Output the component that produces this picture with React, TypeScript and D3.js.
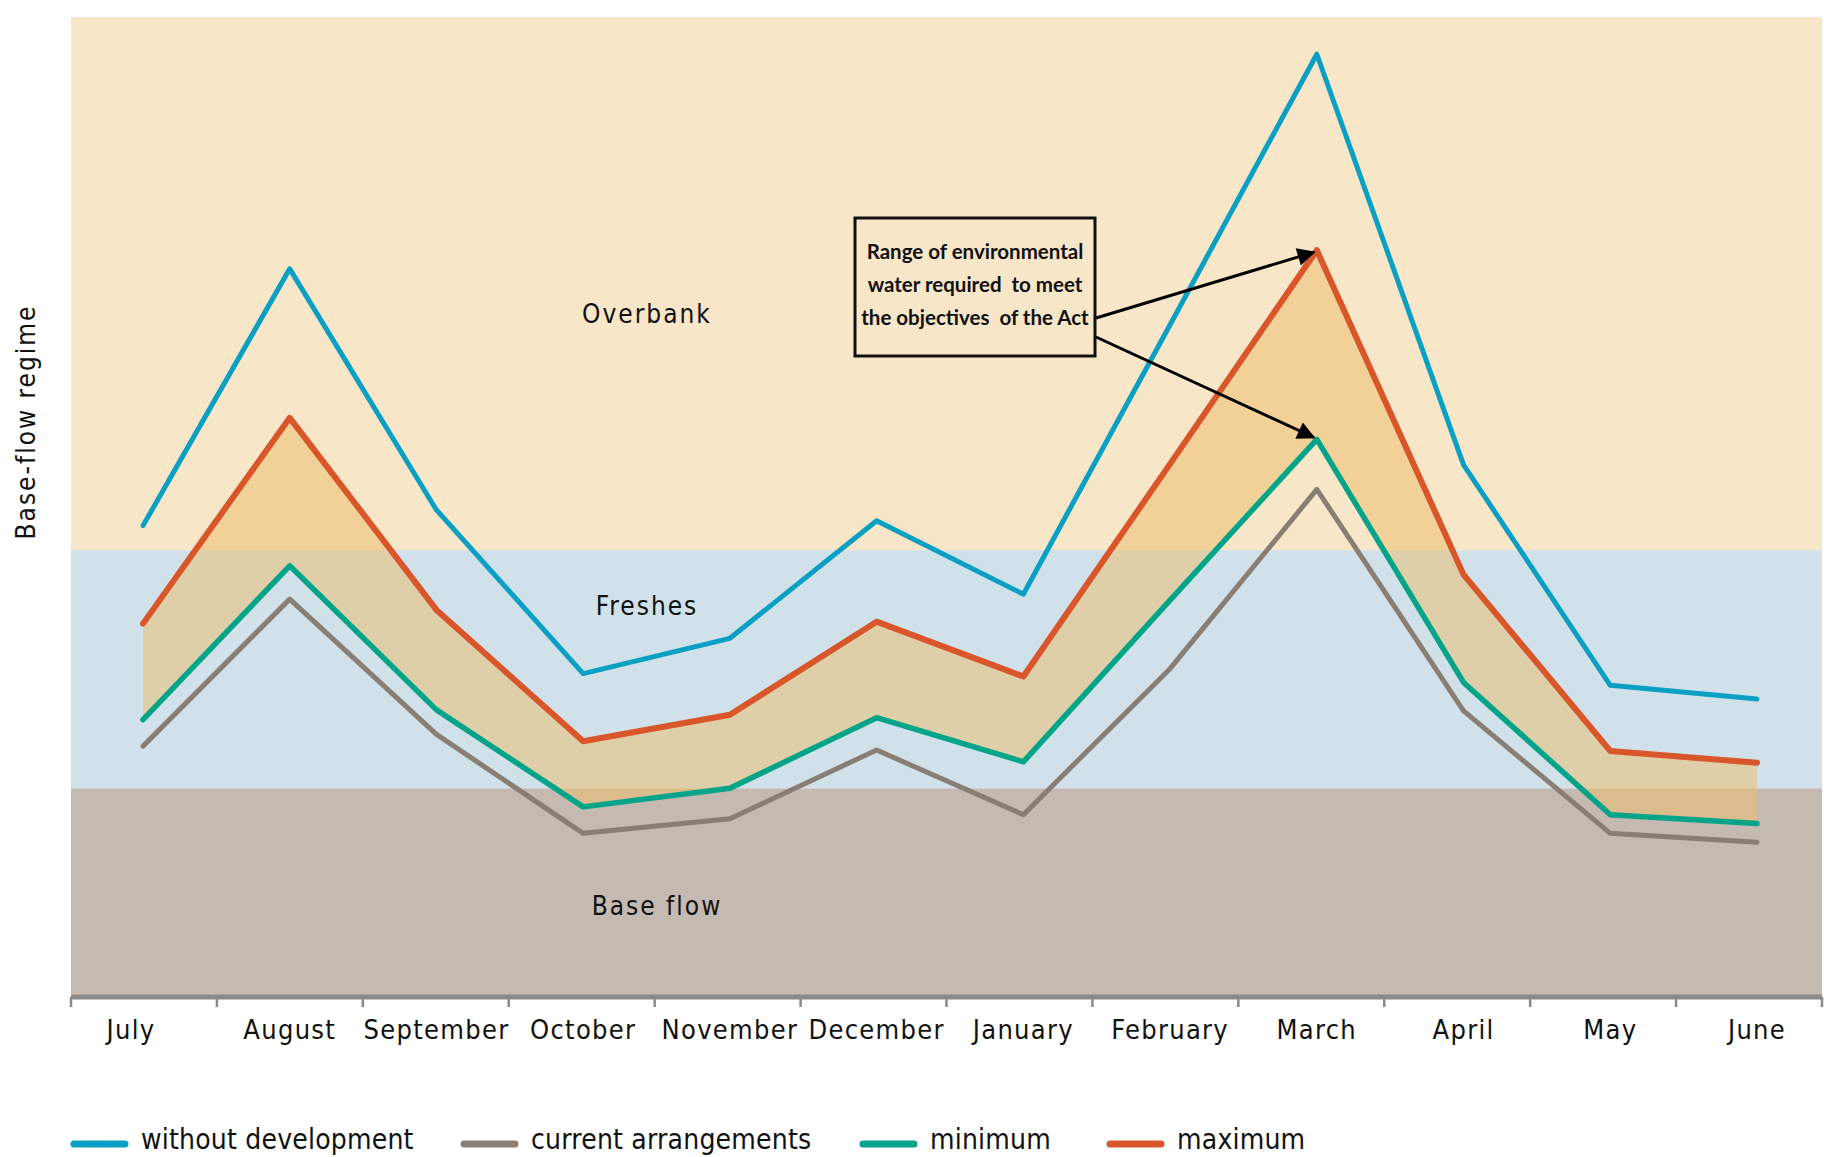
import React from "react";
import * as d3 from "d3";

// months along the flow year
const months = ["July", "August", "September", "October", "November", "December", "January", "February", "March", "April", "May", "June"];

// flow level, relative units (0 = axis, 100 = top of plot)
const withoutDevelopment = [48.1, 74.3, 49.7, 33.0, 36.6, 48.6, 41.1, 68.6, 96.2, 54.3, 31.8, 30.4];
const currentArrangements = [25.6, 40.6, 26.8, 16.7, 18.2, 25.2, 18.6, 33.5, 51.8, 29.2, 16.7, 15.8];
const minimum = [28.3, 44.0, 29.3, 19.4, 21.3, 28.5, 24.0, 40.5, 56.9, 32.1, 18.6, 17.7];
const maximum = [38.1, 59.1, 39.5, 26.1, 28.8, 38.3, 32.7, 54.4, 76.2, 43.1, 25.1, 23.9];

// flow regime zones
const zoneNames = ["Base flow", "Freshes", "Overbank"];
const zoneFrom = [0, 21.3, 45.6];
const zoneTo = [21.3, 45.6, 100];
const zoneColors = ["#c4bab1", "#d0e1ea", "#f7e6c8"];

const legendNames = ["without development", "current arrangements", "minimum", "maximum"];
const legendColors = ["#0aa0c4", "#897e74", "#03a488", "#d9552a"];

const W = 1824;
const H = 1157;
const LEFT = 71;
const RIGHT = 1822;
const TOP = 17;
const BOTTOM = 997;

const FONT = "'DejaVu Sans', sans-serif";

export default function App() {
  const x = d3.scalePoint<string>().domain(months).range([143, 1757]);
  const xEdge = d3.scaleLinear().domain([0, months.length]).range([LEFT, RIGHT]);
  const y = d3.scaleLinear().domain([0, 100]).range([BOTTOM, TOP]);
  const px = (i: number) => x(months[i]) as number;

  const line = d3.line<number>().x((_, i) => px(i)).y(d => y(d));
  const band = d3.area<number>()
    .x((_, i) => px(i))
    .y0((_, i) => y(minimum[i]))
    .y1(d => y(d));

  const series = [
    { data: withoutDevelopment, color: legendColors[0], w: 5 },
    { data: currentArrangements, color: legendColors[1], w: 5 },
    { data: minimum, color: legendColors[2], w: 5.5 },
    { data: maximum, color: legendColors[3], w: 6 },
  ];

  const marchIdx = months.indexOf("March");
  const tipMax = [px(marchIdx) - 3, y(maximum[marchIdx]) + 2];
  const tipMin = [px(marchIdx) - 3, y(minimum[marchIdx]) - 2];

  const zoneLabelPos = [
    { x: 657, y: 907 },
    { x: 647, y: 607 },
    { x: 647, y: 315 },
  ];

  const legendX = [71, 461, 860, 1107];

  const txt = { fontFamily: FONT, fontStretch: "condensed" } as React.CSSProperties;

  return (
    <svg width={W} height={H} style={{ position: "absolute", left: 0, top: 0, background: "#fff" }}>
      <defs>
        <marker id="arrow" viewBox="0 0 10 10" refX="9" refY="5" markerWidth="7" markerHeight="6" orient="auto" markerUnits="strokeWidth">
          <path d="M0,0 L10,5 L0,10 z" fill="#000" />
        </marker>
      </defs>

      {/* flow zones */}
      {zoneNames.map((z, i) => (
        <rect key={z} x={LEFT} width={RIGHT - LEFT} y={y(zoneTo[i])} height={y(zoneFrom[i]) - y(zoneTo[i])} fill={zoneColors[i]} />
      ))}

      {zoneNames.map((z, i) => (
        <text key={z} x={zoneLabelPos[i].x} y={zoneLabelPos[i].y} textAnchor="middle" dominantBaseline="middle"
          style={txt} fontSize={26} letterSpacing={2} fill="#111">{z}</text>
      ))}

      {/* environmental water range */}
      <path d={band(maximum) as string} fill="#eebd6c" fillOpacity={0.52} />

      {series.map((s, i) => (
        <path key={i} d={line(s.data) as string} fill="none" stroke={s.color} strokeWidth={s.w}
          strokeLinecap="round" strokeLinejoin="round" />
      ))}

      {/* x axis */}
      <line x1={LEFT} x2={RIGHT} y1={BOTTOM} y2={BOTTOM} stroke="#8a8a8a" strokeWidth={5} />
      {d3.range(months.length + 1).map(i => (
        <line key={i} x1={xEdge(i)} x2={xEdge(i)} y1={BOTTOM} y2={BOTTOM + 10} stroke="#8a8a8a" strokeWidth={2.5} />
      ))}
      {months.map((m, i) => (
        <text key={m} x={i === 0 ? px(i) - 12 : px(i)} y={1039} textAnchor="middle"
          style={txt} fontSize={27} letterSpacing={1.3} fill="#111">{m}</text>
      ))}

      {/* y label */}
      <text transform="translate(35,422) rotate(-90)" textAnchor="middle" style={txt} fontSize={26} letterSpacing={2} fill="#111">
        Base-flow regime
      </text>

      {/* annotation */}
      <rect x={855} y={218} width={240} height={138} fill="none" stroke="#111" strokeWidth={3} />
      {["Range of environmental", "water required  to meet", "the objectives  of the Act"].map((t, i) => (
        <text key={i} x={975} y={259 + i * 33} textAnchor="middle" fontFamily="Lato, 'Open Sans', sans-serif"
          fontWeight="bold" fontSize={20.5} fill="#111" style={{ whiteSpace: "pre" }}>{t}</text>
      ))}
      <line x1={1096} y1={318} x2={tipMax[0]} y2={tipMax[1]} stroke="#000" strokeWidth={3} markerEnd="url(#arrow)" />
      <line x1={1096} y1={337} x2={tipMin[0]} y2={tipMin[1]} stroke="#000" strokeWidth={3} markerEnd="url(#arrow)" />

      {/* legend */}
      {legendNames.map((n, i) => (
        <g key={n} transform={`translate(${legendX[i]},1144)`}>
          <line x1={3} x2={54} y1={0} y2={0} stroke={legendColors[i]} strokeWidth={7} strokeLinecap="round" />
          <text x={70} y={5} style={txt} fontSize={28} letterSpacing={0.2} fill="#111">{n}</text>
        </g>
      ))}
    </svg>
  );
}
